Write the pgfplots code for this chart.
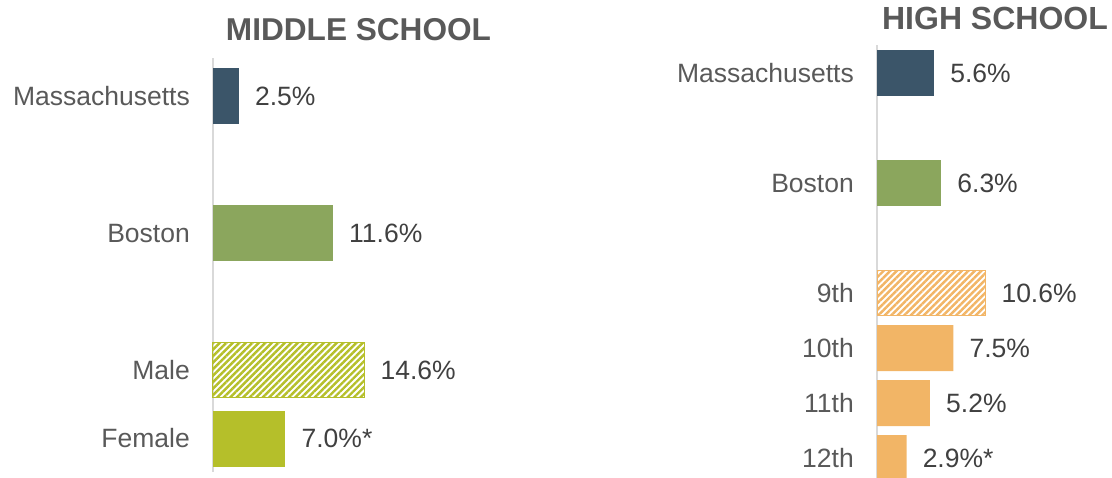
\documentclass[border=0pt]{standalone}
\usepackage{pgfplots}
\pgfplotsset{compat=1.18}
\usetikzlibrary{patterns.meta}
\usepackage{fontspec}
\setmainfont{Liberation Sans}
\definecolor{navy}{HTML}{3B5569}
\definecolor{sgreen}{HTML}{8BA65D}
\definecolor{ygreen}{HTML}{B5BF2A}
\definecolor{sorange}{HTML}{F2B566}
\definecolor{lbl}{HTML}{595959}
\definecolor{val}{HTML}{404040}
\definecolor{axl}{HTML}{D9D9D9}
\newcommand{\lblfont}{\fontsize{26.5}{30}\selectfont}
\pgfplotsset{
 panel/.style={
  scale only axis,
  y dir=reverse, xmin=0,
  axis x line=none, axis y line=left,
  axis line style={-},
  y axis line style={draw=axl, line width=2.2pt},
  major tick length=0pt, ytick style={draw=none},
  yticklabel style={font=\lblfont, text=lbl, anchor=east, inner sep=0pt, xshift=-23pt},
  point meta=explicit symbolic,
  nodes near coords={\pgfplotspointmeta},
  every node near coord/.append style={font=\lblfont, text=val, anchor=west, inner sep=0pt, xshift=16pt},
  clip=false,
 }
}
\begin{document}
\begin{tikzpicture}
\useasboundingbox (0,0) rectangle (1112pt,-478pt);
\node[anchor=base, font=\fontsize{31.6}{34}\selectfont\bfseries, text=lbl] at (358.5pt,-41pt) {MIDDLE SCHOOL};
\node[anchor=base, font=\fontsize{32}{34}\selectfont\bfseries, text=lbl] at (995pt,-30pt) {HIGH SCHOOL};
\begin{axis}[panel, at={(213pt,-58pt)}, anchor=north west,
  width=300pt, height=414pt, xmax=29.0, ymin=-0.555, ymax=5.489,
  ytick={0,2,4,5}, yticklabels={Massachusetts,Boston,Male,Female}]
\addplot[xbar, bar shift=0pt, bar width=56pt, fill=navy, draw=none] coordinates {(2.5,0) [2.5\%]};
\addplot[xbar, bar shift=0pt, bar width=56pt, fill=sgreen, draw=none] coordinates {(11.6,2) [11.6\%]};
\addplot[xbar, bar shift=0pt, bar width=55pt, draw=ygreen, line width=1pt, pattern={Lines[angle=45,distance=4.6pt,line width=2.4pt]}, pattern color=ygreen] coordinates {(14.6,4) [14.6\%]};
\addplot[xbar, bar shift=0pt, bar width=56pt, fill=ygreen, draw=none] coordinates {(7.0,5) [7.0\%*]};
\end{axis}
\begin{axis}[panel, at={(877pt,-45pt)}, anchor=north west,
  width=235pt, height=433pt, xmax=23.06, ymin=-0.51, ymax=7.36,
  ytick={0,2,4,5,6,7}, yticklabels={Massachusetts,Boston,9th,10th,11th,12th}]
\addplot[xbar, bar shift=0pt, bar width=46pt, fill=navy, draw=none] coordinates {(5.6,0) [5.6\%]};
\addplot[xbar, bar shift=0pt, bar width=46pt, fill=sgreen, draw=none] coordinates {(6.3,2) [6.3\%]};
\addplot[xbar, bar shift=0pt, bar width=45pt, draw=sorange, line width=1pt, pattern={Lines[angle=45,distance=4.6pt,line width=2.4pt]}, pattern color=sorange] coordinates {(10.6,4) [10.6\%]};
\addplot[xbar, bar shift=0pt, bar width=46pt, fill=sorange, draw=none] coordinates {(7.5,5) [7.5\%] (5.2,6) [5.2\%] (2.9,7) [2.9\%*]};
\end{axis}
\end{tikzpicture}
\end{document}
